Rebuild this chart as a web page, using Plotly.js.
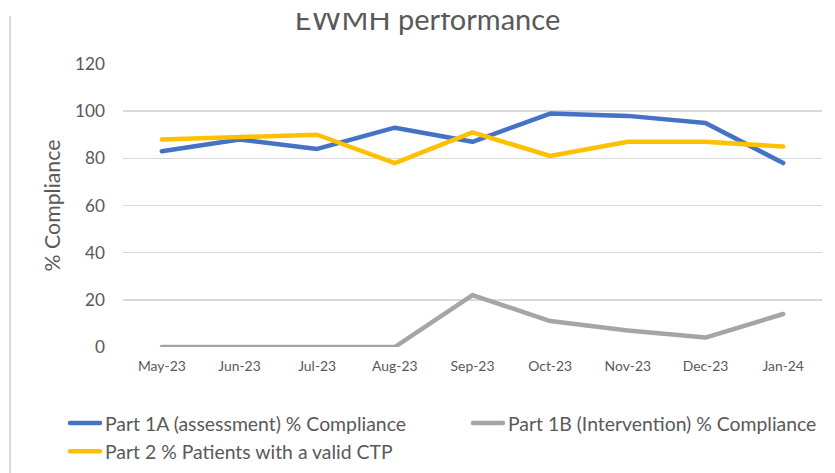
<!DOCTYPE html>
<html><head><meta charset="utf-8">
<script src="https://cdn.plot.ly/plotly-3.0.1.min.js"></script>
<style>
html,body{margin:0;padding:0;background:#fff;overflow:hidden}
#wrap{position:relative;width:835px;height:473px;overflow:hidden}
#chart{position:absolute;left:0;top:0;width:835px;height:500px}
#mask{position:absolute;left:0;top:0;width:835px;height:13px;background:#fff;z-index:10}
#edge{position:absolute;left:8.5px;top:16px;width:2px;height:460px;background:#d9d9d9;z-index:11}
.js-line{stroke-linejoin:round;stroke-linecap:round}
</style></head><body>
<div id="wrap"><div id="chart"></div><div id="mask"></div><div id="edge"></div></div>
<script>
// ---- data ----
const months = ["May-23","Jun-23","Jul-23","Aug-23","Sep-23","Oct-23","Nov-23","Dec-23","Jan-24"];
const part1A = [83, 88, 84, 93, 87, 99, 98, 95, 78];
const part1B = [0, 0, 0, 0, 22, 11, 7, 4, 14];
const part2  = [88, 89, 90, 78, 91, 81, 87, 87, 85];
const seriesNames = [
  "Part 1A (assessment) % Compliance",
  "Part 1B (Intervention) % Compliance",
  "Part 2 % Patients with a valid CTP"
];
const yTicks = [0, 20, 40, 60, 80, 100, 120];
const chartTitle = "EWMH performance";
const yTitle = "% Compliance";

// ---- font fitting helper ----
const FONT = "Lato, 'Open Sans', sans-serif";
const cv = document.createElement('canvas').getContext('2d');
function fit(text, target){
  cv.font = "100px Lato";
  const w = cv.measureText(text).width;
  return Math.round(target / w * 1000) / 10;
}
const fsTitle = fit(chartTitle, 265);
const fsLegend = fit(seriesNames[0], 302);
const fsX = fit(months[0], 48);
const fsY = fit("120", 30);
const fsYT = fit(yTitle, 132);

const textColor = "#595959";
const colors = ["#4472C4", "#A5A5A5", "#FFC000"];
const values = [part1A, part1B, part2];
const legendWidths = [358, 318, 300];

const traces = values.map((v, i) => ({
  type: 'scatter', mode: 'lines',
  x: months, y: v, name: seriesNames[i],
  line: {color: colors[i], width: 4.5},
  legendwidth: legendWidths[i],
  hoverinfo: 'skip'
}));

// figure is drawn taller than the window; the extra strip below is clipped
const W = 835, H = 500;
const L = 123, R = 13, T = 64, B = 153;
const plotW = W - L - R, plotH = H - T - B;
const plotBottom = T + plotH;

const layout = {
  width: W, height: H,
  margin: {l: L, r: R, t: T, b: B, pad: 0},
  paper_bgcolor: '#fff', plot_bgcolor: '#fff',
  font: {family: FONT, color: textColor},
  title: {
    text: chartTitle,
    font: {family: FONT, size: fsTitle, color: textColor},
    xref: 'container', yref: 'container',
    x: 427.5 / W, xanchor: 'center',
    y: 1 - 30 / H, yanchor: 'bottom'
  },
  xaxis: {
    type: 'category',
    range: [-0.5, months.length - 0.5],
    showgrid: false, zeroline: false,
    showline: false,
    ticks: '', ticklabelstandoff: 9,
    tickfont: {family: FONT, size: fsX, color: textColor},
    fixedrange: true
  },
  yaxis: {
    range: [0, 120],
    tickvals: yTicks, ticktext: yTicks.map(String),
    showgrid: true, gridcolor: '#D9D9D9', gridwidth: 1.5,
    zeroline: false, showline: false,
    ticks: '', ticklabelstandoff: 17,
    tickfont: {family: FONT, size: fsY, color: textColor},
    title: {text: yTitle, font: {family: FONT, size: fsYT, color: textColor}, standoff: 8},
    automargin: false,
    fixedrange: true
  },
  showlegend: true,
  legend: {
    orientation: 'h',
    x: (65 - L) / plotW, xanchor: 'left',
    y: (plotBottom - 404) / plotH, yanchor: 'top',
    entrywidth: 358, entrywidthmode: 'pixels',
    font: {family: FONT, size: fsLegend, color: textColor},
    traceorder: 'normal',
    bgcolor: 'rgba(0,0,0,0)', borderwidth: 0
  }
};

Plotly.newPlot('chart', traces, layout, {staticPlot: true, displayModeBar: false});
</script>
</body></html>
